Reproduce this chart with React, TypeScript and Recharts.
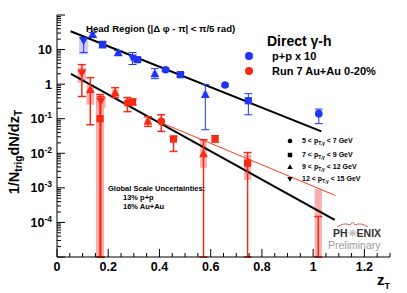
import React from 'react';
import { ComposedChart, XAxis, YAxis, Scatter, ErrorBar, ReferenceArea, ReferenceLine } from 'recharts';

const FONT = '"Liberation Sans", Arial, Helvetica, sans-serif';
const BLUE = '#1f35f2';
const RED = '#f52a14';
const BLUE_SYS = '#c6c6ef';
const RED_SYS = '#f6a0a0';

// p+p x 10 (blue)
const ppZ = [0.104, 0.139, 0.178, 0.239, 0.295, 0.314, 0.382, 0.424, 0.482, 0.579, 0.656, 0.747, 1.022];
const ppVal = [18.2, 27.2, 14.0, 8.0, 5.7, 5.1, 1.98, 2.6, 1.88, 0.5, 0.94, 0.33, 0.14];
const ppMarker = ['down', 'up', 'square', 'up', 'down', 'square', 'up', 'circle', 'square', 'up', 'circle', 'square', 'circle'];
const ppErrLo = [8.2, 23.5, 11.2, 6.8, 3.7, 4.4, 1.44, 2.3, 1.65, 0.048, 0.86, 0.13, 0.072];
const ppErrHi = [22.3, 31, 17.3, 9.4, 8.2, 5.9, 2.8, 2.9, 2.1, 0.97, 1.02, 0.53, 0.19];
const ppSysLo = [7.2, 22, 11.5, 6.6, 4.6, 4.2, 1.65, 2.2, 1.6, 0.4, 0.82, 0.27, 0.11];
const ppSysHi = [23.8, 33, 17, 9.6, 7.0, 6.1, 2.4, 3.0, 2.2, 0.63, 1.06, 0.41, 0.18];
const ppSysW = [0.018, 0.012, 0.012, 0.012, 0.012, 0.012, 0.012, 0.012, 0.012, 0.012, 0.012, 0.012, 0.012];

// Run 7 Au+Au 0-20% (red)
const aaZ = [0.097, 0.13, 0.171, 0.168, 0.227, 0.275, 0.295, 0.355, 0.407, 0.455, 0.617, 0.572, 0.744, 1.02];
const aaVal = [2.11, 0.69, 0.32, 0.1, 0.556, 0.285, 0.305, 0.0835, 0.0835, 0.0258, 0.0263, 0.0097, 0.0052, 1e-5];
const aaMarker = ['down', 'up', 'down', 'square', 'up', 'circle', 'square', 'up', 'circle', 'square', 'circle', 'up', 'square', 'none'];
const aaErrLo = [0.44, 0.067, 1e-5, 1e-5, 0.41, 0.16, 0.25, 0.06, 0.043, 0.0113, 0.021, 1e-5, 1e-5, 1e-5];
const aaErrHi = [3.67, 1.54, 0.44, 0.5, 0.79, 0.41, 0.37, 0.114, 0.13, 0.031, 0.032, 0.0246, 0.0105, 1.48e-4];
const aaSysLo = [1.1, 0.255, 0.21, 1e-5, 0.45, 0.23, 0.25, 0.07, 0.07, 0.021, 0.021, 0.0038, 0.0017, 1e-5];
const aaSysHi = [3.0, 0.97, 0.44, 0.44, 0.7, 0.36, 0.37, 0.1, 0.1, 0.031, 0.033, 0.0246, 0.0091, 9.2e-4];
const aaSysW = [0.016, 0.015, 0.019, 0.016, 0.014, 0.012, 0.012, 0.012, 0.012, 0.013, 0.013, 0.013, 0.014, 0.014];

// fits (end points)
const ppFit = [{ x: 0.053, y: 34 }, { x: 1.032, y: 0.043 }];
const aaFit = [{ x: 0.0545, y: 1.98 }, { x: 1.084, y: 1.18e-4 }];
const aaFitThin = [{ x: 0.41, y: 0.075 }, { x: 1.087, y: 6.0e-4 }];

// axes
const xTicks = [0, 0.05, 0.1, 0.15, 0.2, 0.25, 0.3, 0.35, 0.4, 0.45, 0.5, 0.55, 0.6, 0.65, 0.7, 0.75, 0.8, 0.85, 0.9, 0.95, 1.0, 1.05, 1.1, 1.15, 1.2, 1.25, 1.3];
const xMajorLabels: Record<string, string> = { '0': '0', '0.2': '0.2', '0.4': '0.4', '0.6': '0.6', '0.8': '0.8', '1': '1', '1.2': '1.2' };
const yDecades = [1e-5, 1e-4, 1e-3, 1e-2, 1e-1, 1, 10];
const yMinorMult = [1, 2, 3, 4, 5, 6, 7, 8, 9];
const yTicks = [...yDecades.flatMap((d) => yMinorMult.map((m) => m * d)), 100];
const yLabels = [
  { v: 1e-4, base: '10', exp: '-4' },
  { v: 1e-3, base: '10', exp: '-3' },
  { v: 1e-2, base: '10', exp: '-2' },
  { v: 1e-1, base: '10', exp: '-1' },
  { v: 1, base: '1', exp: '' },
  { v: 10, base: '10', exp: '' },
];

const ppData = ppZ.map((z, i) => ({ x: z, y: ppVal[i], m: ppMarker[i], err: [ppVal[i] - ppErrLo[i], ppErrHi[i] - ppVal[i]] }));
const aaData = aaZ.map((z, i) => ({ x: z, y: aaVal[i], m: aaMarker[i], err: [aaVal[i] - aaErrLo[i], aaErrHi[i] - aaVal[i]] }));

const isDecade = (v: number) => Math.abs(Math.log10(v) - Math.round(Math.log10(v))) < 1e-6;

const XTick = (props: any) => {
  const { x, y, payload } = props;
  const v = payload.value;
  const key = String(Math.round(v * 100) / 100);
  const lab = xMajorLabels[key];
  const major = lab !== undefined;
  return (
    <g>
      <line x1={x} x2={x} y1={y} y2={y - (major ? 8 : 4)} stroke="#000" strokeWidth={1} />
      {major && (
        <text x={x} y={y + 14} textAnchor="middle" fontFamily={FONT} fontWeight="bold" fontSize={12.5} fill="#000">
          {lab}
        </text>
      )}
    </g>
  );
};

const YTickLeft = (props: any) => {
  const { x, y, payload } = props;
  const v = payload.value;
  const major = isDecade(v);
  const lab = yLabels.find((l) => Math.abs(Math.log10(l.v) - Math.log10(v)) < 1e-6);
  return (
    <g>
      <line x1={x} x2={x + (major ? 8 : 4)} y1={y} y2={y} stroke="#000" strokeWidth={1} />
      {lab && (
        <text x={x - 5} y={y + 4.5} textAnchor="end" fontFamily={FONT} fontWeight="bold" fontSize={12.5} fill="#000">
          <tspan>{lab.base}</tspan>
          {lab.exp && (
            <tspan dy={-5} fontSize={8.5}>
              {lab.exp}
            </tspan>
          )}
        </text>
      )}
    </g>
  );
};

const YTickRight = (props: any) => {
  const { x, y, payload } = props;
  const major = isDecade(payload.value);
  return <line x1={x} x2={x - (major ? 8 : 4)} y1={y} y2={y} stroke="#000" strokeWidth={1} />;
};

const drawMarker = (m: string, cx: number, cy: number, color: string, s = 1) => {
  if (m === 'circle') return <circle cx={cx} cy={cy} r={3.8 * s} fill={color} />;
  if (m === 'square') return <rect x={cx - 3.6 * s} y={cy - 3.6 * s} width={7.2 * s} height={7.2 * s} fill={color} />;
  if (m === 'up')
    return <polygon points={`${cx},${cy - 4.6 * s} ${cx - 4.4 * s},${cy + 3.4 * s} ${cx + 4.4 * s},${cy + 3.4 * s}`} fill={color} />;
  if (m === 'down')
    return <polygon points={`${cx},${cy + 4.6 * s} ${cx - 4.4 * s},${cy - 3.4 * s} ${cx + 4.4 * s},${cy - 3.4 * s}`} fill={color} />;
  return <g />;
};

const makeShape = (color: string) => (props: any) => {
  const { cx, cy, payload } = props;
  if (cx == null || cy == null) return <g />;
  return drawMarker(payload.m, cx, cy, color);
};

const Sub = ({ children }: any) => (
  <tspan fontSize={5} dy={2}>
    {children}
  </tspan>
);

const ptRows = [
  { m: 'circle', lo: '5', hi: '7' },
  { m: 'square', lo: '7', hi: '9' },
  { m: 'up', lo: '9', hi: '12' },
  { m: 'down', lo: '12', hi: '15' },
];
const ptRowY = [141, 155, 167, 179];

export default function App() {
  return (
    <div style={{ position: 'absolute', left: 0, top: 0, width: 407, height: 293, background: '#fff' }}>
      <ComposedChart width={407} height={293} margin={{ top: 15, right: 17, bottom: 0, left: 0 }}>
        <XAxis
          dataKey="x"
          type="number"
          domain={[0, 1.3]}
          ticks={xTicks}
          interval={0}
          allowDataOverflow
          height={36}
          tickSize={0}
          tickMargin={0}
          tick={<XTick />}
          axisLine={{ stroke: '#000' }}
          tickLine={false}
        />
        <XAxis xAxisId="top" orientation="top" type="number" domain={[0, 1.3]} height={0} tick={false} tickLine={false} axisLine={{ stroke: '#000' }} />
        <YAxis
          yAxisId="left"
          dataKey="y"
          type="number"
          scale="log"
          domain={[1e-5, 100]}
          ticks={yTicks}
          interval={0}
          allowDataOverflow
          width={57}
          tickSize={0}
          tickMargin={0}
          tick={<YTickLeft />}
          axisLine={{ stroke: '#000' }}
          tickLine={false}
        />
        <YAxis
          yAxisId="right"
          orientation="right"
          type="number"
          scale="log"
          domain={[1e-5, 100]}
          ticks={yTicks}
          interval={0}
          allowDataOverflow
          width={0}
          tickSize={0}
          tickMargin={0}
          tick={<YTickRight />}
          axisLine={{ stroke: '#000' }}
          tickLine={false}
        />

        {aaData.map((d, i) => (
          <ReferenceArea
            key={'aas' + i}
            yAxisId="left"
            x1={d.x - aaSysW[i]}
            x2={d.x + aaSysW[i]}
            y1={aaSysLo[i]}
            y2={aaSysHi[i]}
            fill={RED_SYS}
            fillOpacity={0.85}
            stroke="none"
            ifOverflow="hidden"
          />
        ))}
        {ppData.map((d, i) => (
          <ReferenceArea
            key={'pps' + i}
            yAxisId="left"
            x1={d.x - ppSysW[i]}
            x2={d.x + ppSysW[i]}
            y1={ppSysLo[i]}
            y2={ppSysHi[i]}
            fill={BLUE_SYS}
            fillOpacity={0.85}
            stroke="none"
            ifOverflow="hidden"
          />
        ))}

        <ReferenceLine yAxisId="left" segment={ppFit} stroke="#000" strokeWidth={2} />
        <ReferenceLine yAxisId="left" segment={aaFit} stroke="#000" strokeWidth={2} />
        <ReferenceLine yAxisId="left" segment={aaFitThin} stroke="#ff3a1a" strokeWidth={1} />

        <Scatter yAxisId="left" data={ppData} dataKey="y" shape={makeShape(BLUE)} isAnimationActive={false}>
          <ErrorBar dataKey="err" direction="y" width={4} stroke={BLUE} strokeWidth={1} isAnimationActive={false} />
        </Scatter>
        <Scatter yAxisId="left" data={aaData} dataKey="y" shape={makeShape(RED)} isAnimationActive={false}>
          <ErrorBar dataKey="err" direction="y" width={4} stroke={RED} strokeWidth={1.5} isAnimationActive={false} />
        </Scatter>
      </ComposedChart>

      <svg width={407} height={293} style={{ position: 'absolute', left: 0, top: 0, pointerEvents: 'none' }} fontFamily={FONT}>
        {/* axis titles */}
        <text transform="translate(19,110) rotate(-90)" textAnchor="end" fontWeight="bold" fontSize={14.5} fill="#000">
          1/N<tspan fontSize={10} dy={3}>trig</tspan>
          <tspan dy={-3}>dN/dz</tspan>
          <tspan fontSize={10} dy={3}>T</tspan>
        </text>
        <text x={377} y={285} fontWeight="bold" fontSize={15} fill="#000">
          z<tspan fontSize={9} dy={4}>T</tspan>
        </text>

        {/* head region */}
        <text x={86} y={31.5} fontWeight="bold" fontSize={9.6} fill="#000">
          Head Region (|Δ φ - π| &lt; π/5 rad)
        </text>

        {/* main legend */}
        <text x={267} y={46} fontWeight="bold" fontSize={14} fill="#000">
          Direct γ-h
        </text>
        <circle cx={249} cy={56} r={4} fill={BLUE} />
        <text x={272} y={60} fontWeight="bold" fontSize={11} fill="#000">
          p+p x 10
        </text>
        <circle cx={249} cy={71} r={4} fill={RED} />
        <text x={272} y={75} fontWeight="bold" fontSize={11} fill="#000">
          Run 7 Au+Au 0-20%
        </text>

        {/* pT legend */}
        {ptRows.map((r, i) => (
          <g key={r.lo}>
            {drawMarker(r.m, 290, ptRowY[i], '#000', 0.62)}
            <text x={302} y={ptRowY[i] + 2} fontWeight="bold" fontSize={7} fill="#000">
              {r.lo} &lt; p<Sub>T,γ</Sub>
              <tspan dy={-2}> &lt; {r.hi} GeV</tspan>
            </text>
          </g>
        ))}

        {/* global scale */}
        <text x={108} y={191} fontWeight="bold" fontSize={7.5} fill="#000">
          Global Scale Uncertainties:
        </text>
        <text x={123} y={200} fontWeight="bold" fontSize={7.5} fill="#000">
          13% p+p
        </text>
        <text x={123} y={209} fontWeight="bold" fontSize={7.5} fill="#000">
          16% Au+Au
        </text>

        {/* PHENIX logo */}
        <path d="M337,227 Q344,222 350,225 L352.5,222 L355,225 Q361,222 368,227" stroke="#e05a5a" strokeWidth={1} fill="none" />
        <text x={333} y={237} fontWeight="bold" fontSize={10.5} fill="#333">
          PH<tspan fill="#bbb">✳</tspan>ENIX
        </text>
        <text x={328} y={249} fontSize={10.5} fill="#999">
          Preliminary
        </text>
      </svg>
    </div>
  );
}
